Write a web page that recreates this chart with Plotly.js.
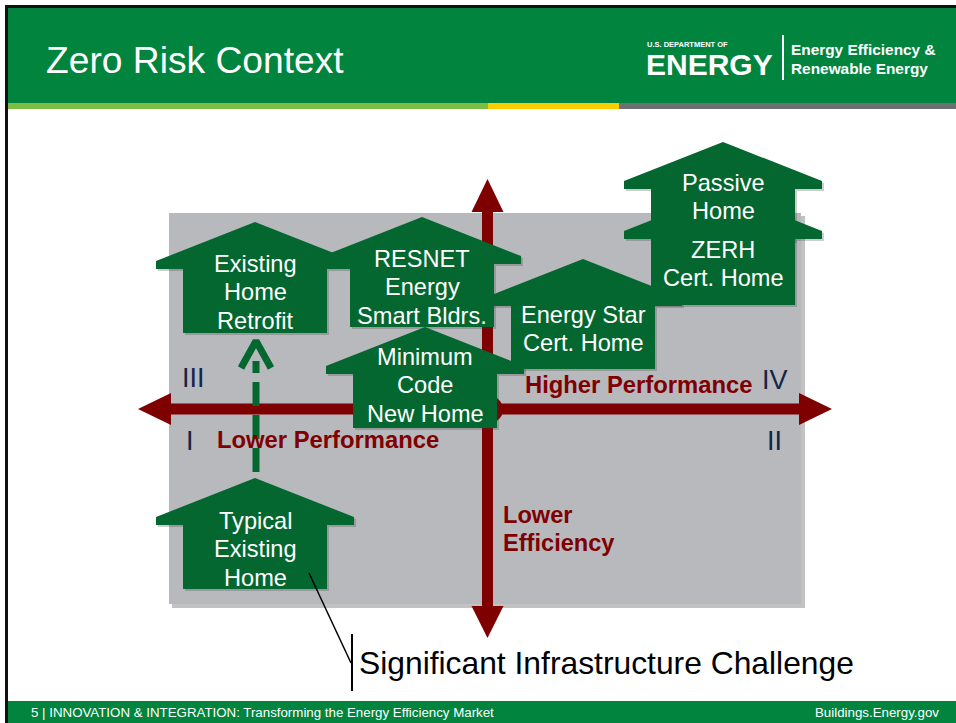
<!DOCTYPE html>
<html>
<head>
<meta charset="utf-8">
<script src="https://cdn.plot.ly/plotly-3.0.1.min.js"></script>
<style>
  html, body { margin: 0; padding: 0; background: #ffffff; }
  #chart { width: 956px; height: 723px; }
</style>
</head>
<body>
<div id="chart"></div>
<script>
// ---- Data (positions on the slide's performance / efficiency canvas) ----
const houseLabels = [
  'Typical<br>Existing<br>Home',
  'Existing<br>Home<br>Retrofit',
  'Minimum<br>Code<br>New Home',
  'RESNET<br>Energy<br>Smart Bldrs.',
  'Energy Star<br>Cert. Home',
  'ZERH<br>Cert. Home',
  'Passive<br>Home'
];
const houseX     = [255, 255, 425, 422, 583, 723, 723];
const housePeakY = [478, 222, 327, 217, 259, 192, 142];
const houseBaseY = [589, 333, 428, 327, 369, 305, 241];
const labelY     = [549, 292, 385, 287, 329, 264, 197];

const quadrantLabels = ['I', 'II', 'III', 'IV'];
const quadrantX = [190, 774, 193, 775];
const quadrantY = [441, 441, 378, 380];

const axisLabels = ['Higher Performance', 'Lower Performance', 'Lower<br>Efficiency'];
const axisLabelX = [638, 328, 502];
const axisLabelY = [384, 439, 529];

const titleText = 'Zero Risk Context';
const calloutText = 'Significant Infrastructure Challenge';
const footerLeft = '5 | INNOVATION & INTEGRATION: Transforming the Energy Efficiency Market';
const footerRight = 'Buildings.Energy.gov';

// ---- Styling ----
const HOUSE_GREEN = '#03672f';
const HEADER_GREEN = '#00843e';
const DARK_RED = '#7f0000';
const NAVY = '#14264a';
const FONT = 'Liberation Sans, Arial, sans-serif';
const NARROW = 'Liberation Sans Narrow, Arial Narrow, Liberation Sans, Arial, sans-serif';
const LINE_GAP = 28.5;

const HALF_BODY = 72, OVERHANG = 27, ROOF = 39, EAVE = 8;

function housePolygon(cx, peak, base) {
  const eR = cx + HALF_BODY + OVERHANG, eL = cx - HALF_BODY - OVERHANG;
  const bR = cx + HALF_BODY, bL = cx - HALF_BODY;
  const yE = peak + ROOF, yB = peak + ROOF + EAVE;
  return {
    x: [cx, eR, eR, bR, bR, bL, bL, eL, eL, cx],
    y: [peak, yE, yB, yB, base, base, yB, yB, yE, peak]
  };
}

const traces = [];
const order = [0, 1, 3, 4, 2, 5, 6];
order.forEach(i => {
  const p = housePolygon(houseX[i], housePeakY[i], houseBaseY[i]);
  traces.push({
    type: 'scatter', mode: 'lines', x: p.x.map(v => v + 2), y: p.y.map(v => v + 2),
    fill: 'toself', fillcolor: 'rgba(60,60,60,0.25)', line: {width: 0},
    hoverinfo: 'skip', showlegend: false
  });
});
order.forEach(i => {
  const p = housePolygon(houseX[i], housePeakY[i], houseBaseY[i]);
  traces.push({
    type: 'scatter', mode: 'lines', x: p.x, y: p.y,
    fill: 'toself', fillcolor: HOUSE_GREEN, line: {width: 0},
    hoverinfo: 'skip', showlegend: false
  });
});

// dashed improvement arrow (from Typical Existing Home up to Existing Home Retrofit)
const from = 0, to = 1;
traces.push({
  type: 'scatter', mode: 'lines',
  x: [houseX[from] + 1, houseX[to] + 1], y: [housePeakY[from] - 6, houseBaseY[to] + 28],
  line: {color: HOUSE_GREEN, width: 7, dash: '24px,9px'},
  hoverinfo: 'skip', showlegend: false
});
traces.push({
  type: 'scatter', mode: 'lines',
  x: [houseX[to] - 14, houseX[to] + 1, houseX[to] + 16],
  y: [houseBaseY[to] + 35, houseBaseY[to] + 8, houseBaseY[to] + 35],
  line: {color: HOUSE_GREEN, width: 7},
  hoverinfo: 'skip', showlegend: false
});

// ---- Shapes ----
const shapes = [
  {type: 'rect', x0: 5, x1: 956, y0: 5, y1: 723, fillcolor: '#111', line: {width: 0}, layer: 'below'},
  {type: 'rect', x0: 8, x1: 956, y0: 8, y1: 723, fillcolor: '#ffffff', line: {width: 0}, layer: 'below'},
  {type: 'rect', x0: 8, x1: 956, y0: 8, y1: 103, fillcolor: HEADER_GREEN, line: {width: 0}, layer: 'below'},
  {type: 'rect', x0: 8, x1: 488, y0: 103, y1: 109, fillcolor: '#7cbd42', line: {width: 0}, layer: 'below'},
  {type: 'rect', x0: 488, x1: 619, y0: 103, y1: 109, fillcolor: '#ffcc00', line: {width: 0}, layer: 'below'},
  {type: 'rect', x0: 619, x1: 956, y0: 103, y1: 109, fillcolor: '#6c6f74', line: {width: 0}, layer: 'below'},
  {type: 'rect', x0: 8, x1: 956, y0: 701, y1: 723, fillcolor: HEADER_GREEN, line: {width: 0}, layer: 'below'},
  {type: 'line', x0: 783, x1: 783, y0: 35, y1: 80, line: {color: '#ffffff', width: 2}, layer: 'below'},
  {type: 'rect', x0: 172, x1: 805, y0: 216, y1: 608, fillcolor: 'rgba(120,120,120,0.45)', line: {width: 0}, layer: 'below'},
  {type: 'rect', x0: 169, x1: 801, y0: 213, y1: 604, fillcolor: '#b7b9bd', line: {width: 0}, layer: 'below'},
  {type: 'rect', x0: 166, x1: 804, y0: 403.5, y1: 414.5, fillcolor: DARK_RED, line: {width: 0}, layer: 'below'},
  {type: 'path', path: 'M 138 409 L 171 393 L 171 425 Z', fillcolor: DARK_RED, line: {width: 0}, layer: 'below'},
  {type: 'path', path: 'M 832 409 L 799 393 L 799 425 Z', fillcolor: DARK_RED, line: {width: 0}, layer: 'below'},
  {type: 'rect', x0: 482, x1: 493, y0: 208, y1: 610, fillcolor: DARK_RED, line: {width: 0}, layer: 'below'},
  {type: 'path', path: 'M 487.5 179 L 471.5 212 L 503.5 212 Z', fillcolor: DARK_RED, line: {width: 0}, layer: 'below'},
  {type: 'path', path: 'M 487.5 638 L 471.5 606 L 503.5 606 Z', fillcolor: DARK_RED, line: {width: 0}, layer: 'below'},
  {type: 'circle', x0: 476, x1: 503, y0: 396, y1: 423, fillcolor: DARK_RED, line: {width: 0}, layer: 'below'},
  {type: 'line', x0: 309, y0: 573, x1: 351, y1: 663, line: {color: '#000', width: 1.5}, layer: 'above'},
  {type: 'line', x0: 352, y0: 634, x1: 352, y1: 691, line: {color: '#000', width: 2}, layer: 'above'}
];

// ---- Annotations ----
const annotations = [];
function addText(text, x, y, size, color, opts) {
  annotations.push(Object.assign({
    text: text, x: x, y: y, xref: 'x', yref: 'y', showarrow: false,
    xanchor: 'center', yanchor: 'middle', borderpad: 0,
    font: {family: FONT, size: size, color: color}
  }, opts || {}));
}
// multi-line text laid out line by line, so the line pitch matches the slide
function addLines(text, x, yMid, size, color, opts, wrap) {
  const lines = text.split('<br>');
  const y0 = yMid - (lines.length - 1) * LINE_GAP / 2;
  lines.forEach((ln, k) => addText(wrap ? wrap(ln) : ln, x, y0 + k * LINE_GAP, size, color, opts));
}

addText(titleText, 45, 60, 37.2, '#ffffff', {xanchor: 'left'});
// logo
addText('<b>U.S. DEPARTMENT OF</b>', 646, 44, 7.5, '#ffffff', {xanchor: 'left'});
addText('<b>ENERGY</b>', 645, 64, 30, '#ffffff', {xanchor: 'left'});
addText('<b>Energy Efficiency &</b>', 790, 49, 15.4, '#ffffff', {xanchor: 'left'});
addText('<b>Renewable Energy</b>', 790, 68, 15.4, '#ffffff', {xanchor: 'left'});

houseLabels.forEach((t, i) => addLines(t, houseX[i], labelY[i], 23.6, '#ffffff'));

quadrantLabels.forEach((t, i) => addText(t, quadrantX[i], quadrantY[i], 27, NAVY));

const bold = s => '<b>' + s + '</b>';
addLines(axisLabels[0], axisLabelX[0], axisLabelY[0], 23.8, DARK_RED, null, bold);
addLines(axisLabels[1], axisLabelX[1], axisLabelY[1], 23.8, DARK_RED, null, bold);
addLines(axisLabels[2], axisLabelX[2], axisLabelY[2], 23.6, DARK_RED, {xanchor: 'left', align: 'left'}, bold);

addText(calloutText, 358, 663, 31.8, '#000000', {xanchor: 'left'});

annotations.push({
  text: footerLeft, x: 30, y: 712.5, xref: 'x', yref: 'y', showarrow: false,
  xanchor: 'left', yanchor: 'middle', borderpad: 0, font: {family: NARROW, size: 13.3, color: '#ffffff'}
});
annotations.push({
  text: footerRight, x: 940, y: 712.5, xref: 'x', yref: 'y', showarrow: false,
  xanchor: 'right', yanchor: 'middle', borderpad: 0, font: {family: NARROW, size: 13.3, color: '#ffffff'}
});

const layout = {
  width: 956, height: 723,
  margin: {l: 0, r: 0, t: 0, b: 0, pad: 0},
  paper_bgcolor: '#ffffff', plot_bgcolor: '#ffffff',
  xaxis: {range: [0, 956], visible: false, fixedrange: true},
  yaxis: {range: [723, 0], visible: false, fixedrange: true},
  showlegend: false,
  shapes: shapes,
  annotations: annotations
};

Plotly.newPlot('chart', traces, layout, {staticPlot: true, displayModeBar: false});
</script>
</body>
</html>
